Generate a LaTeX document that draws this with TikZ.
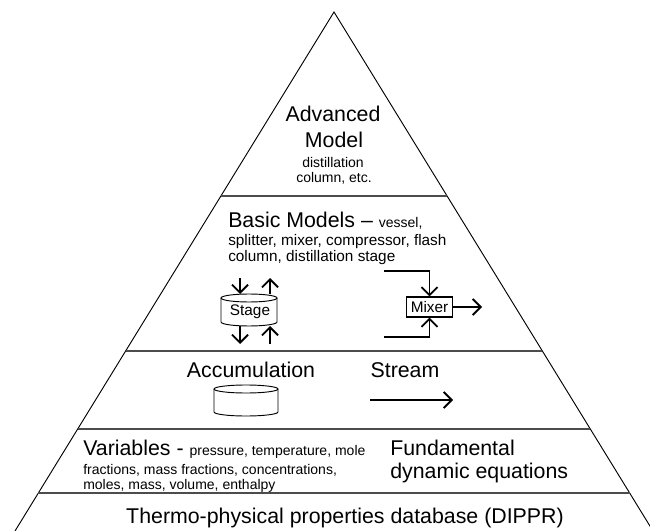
\documentclass[tikz,border=0pt]{standalone}
\usepackage{fontspec}
\setmainfont{Liberation Sans}
\usepackage{tikz}
\usetikzlibrary{calc,arrows.meta}

\newcommand\txtL{\fontsize{16}{19}\selectfont}
\newcommand\txtM{\fontsize{11.5}{13}\selectfont}
\newcommand\txtS{\fontsize{10.5}{12}\selectfont}

\tikzset{
  edge/.style={line width=0.7pt},
  tier/.style={line width=1.1pt,draw=black!70},
  flow/.style={line width=1.4pt,-{Straight Barb[length=6pt,width=12pt]}},
  lbl/.style={inner sep=0pt,anchor=base west},
  unit/.style={draw,line width=0.8pt,minimum width=35pt,minimum height=15pt,inner sep=0pt},
  pics/drum/.style n args={2}{code={
    \draw[edge] (0,0) ellipse ({#1} and 4);
    \draw[edge] (-#1,0)--(-#1,#2) arc(180:0:{#1} and 4)--(#1,0);
    \coordinate (-top) at (0,-4);
    \coordinate (-bot) at (0,#2+4);
  }}
}

\begin{document}
\begin{tikzpicture}[x=0.75pt,y=-0.75pt]
		\useasboundingbox (0,0) rectangle (650,531);
		\clip (0,0) rectangle (650,531);
		% pyramid
		\coordinate (apex) at (334,12);
		\coordinate (bl) at (15,531);
		\coordinate (br) at (653,531);
		\draw[edge] (bl)--(apex)--(br);
		\foreach \t in {0.3545,0.6532,0.8035,0.9268}
			\draw[tier] ($(apex)!\t!(bl)$)--($(apex)!\t!(br)$);
		% top level
		\node[lbl,anchor=base] (adv) at (333,122) {\txtL Advanced};
		\node[lbl,anchor=base] (model) at (334,148) {\txtL Model};
		\node[lbl,anchor=base] (dist) at (333,168) {\txtS distillation};
		\node[lbl,anchor=base] (col) at (334,183) {\txtS column, etc.};
		% basic models
		\node[lbl] (basic) at (228,228) {\txtL Basic Models -- \txtS vessel,};
		\node[lbl] (basic2) at (228,246) {\txtM splitter, mixer, compressor, flash};
		\node[lbl] (basic3) at (228,262) {\txtM column, distillation stage};
		\pic (stage) at (249,298) {drum={28}{24}};
		\node (stagetxt) at (250,312) {\txtM Stage};
		\coordinate (sin) at (240,278);
		\coordinate (sout) at (270,278);
		\coordinate (bout) at (240,344);
		\coordinate (bin) at (270,344);
		\draw[flow] (sin)--(sin |- stage-top);
		\draw[flow] (sout |- stage-top)--(sout);
		\draw[flow] (bout |- stage-bot)--(bout);
		\draw[flow] (bin)--(bin |- stage-bot);
		\node[unit] (mixer) at (429.5,307) {\txtM Mixer};
		\coordinate (min1) at (384,271);
		\coordinate (min2) at (384,337);
		\coordinate (mout) at (482,307);
		\draw[flow] (min1)-|(mixer.north);
		\draw[flow] (min2)-|(mixer.south);
		\draw[flow] (mixer.east)--(mout);
		% accumulation and stream
		\node[lbl,anchor=base] (accum) at (251,377) {\txtL Accumulation};
		\node[lbl,anchor=base] (stream) at (405,377) {\txtL Stream};
		\pic (tank) at (246,389) {drum={32}{23}};
		\coordinate (st1) at (370,400);
		\coordinate (st2) at (453,400);
		\draw[flow] (st1)--(st2);
		% variables
		\node[lbl] (vars) at (83,455) {\txtL Variables - \txtS pressure, temperature, mole};
		\node[lbl] (vars2) at (83,474) {\txtS fractions, mass fractions, concentrations,};
		\node[lbl] (vars3) at (83,489) {\txtS moles, mass, volume, enthalpy};
		\node[lbl] (fund) at (390,455) {\txtL Fundamental};
		\node[lbl] (fund2) at (390,478) {\txtL dynamic equations};
		% database
		\node[lbl,anchor=base] (dippr) at (345,523) {\txtL Thermo-physical properties database (DIPPR)};
	\end{tikzpicture}
\end{document}
